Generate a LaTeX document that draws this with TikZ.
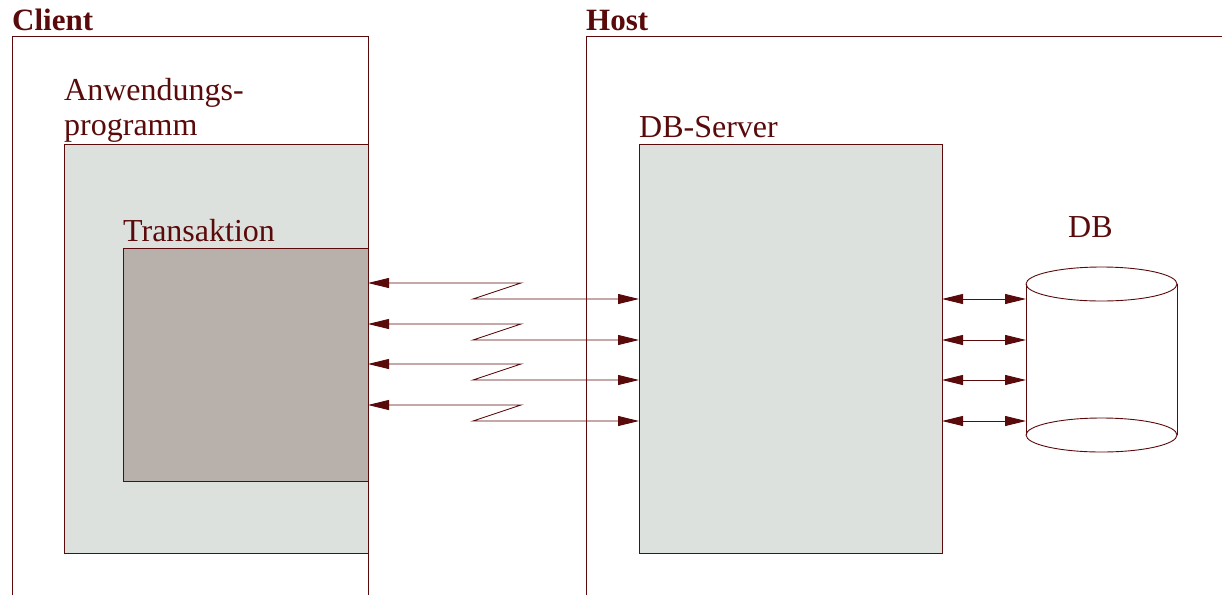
\documentclass[tikz,border=0pt]{standalone}
\usepackage{fontspec}
\setmainfont{Liberation Serif}
\usetikzlibrary{arrows.meta}
\definecolor{ink}{HTML}{5A0A0A}
\definecolor{appfill}{HTML}{DDE1DE}
\definecolor{trfill}{HTML}{B8B0AA}
\begin{document}
\begin{tikzpicture}[x=1pt,y=-1pt,
  line/.style={draw=ink,line width=0.9pt},
  boxnode/.style={line, rectangle, anchor=north west, inner sep=0pt, outer sep=0pt},
  lbl/.style={text=ink, anchor=base west, inner sep=0pt, font=\fontsize{32}{35}\selectfont},
  title/.style={lbl, font=\fontsize{31}{35}\selectfont\bfseries},
  conn/.style={line, {Triangle[length=21pt,width=10pt]}-{Triangle[length=21pt,width=10pt]}}]
\useasboundingbox (0,0) rectangle (1222,595);
% frames
\draw[line] (12,595) -- (12,36) -- (368,36) -- (368,595);
\draw[line] (586,595) -- (586,36) -- (1222,36);
\node[title] (client) at (12,30) {Client};
\node[title] (host) at (586,30) {Host};
% boxes
\node[boxnode, fill=appfill, minimum width=304pt, minimum height=409pt] (app) at (64,144) {};
\node[boxnode, fill=trfill, minimum width=245pt, minimum height=233pt] (tr) at (123,248) {};
\node[boxnode, fill=appfill, minimum width=303pt, minimum height=409pt] (srv) at (639,144) {};
\node[lbl, align=left, anchor=base west] (applbl) at (64,135) {Anwendungs-\\programm};
\node[lbl] (trlbl) at (123,241) {Transaktion};
\node[lbl] (srvlbl) at (639,137) {DB-Server};
\node[lbl] (dblbl) at (1068,237) {DB};
% database cylinder
\node[rectangle, inner sep=0pt, outer sep=0pt, minimum width=151pt, minimum height=185pt, anchor=north west] (db) at (1026,267) {};
\draw[line] (1026,284) -- (1026,435);
\draw[line] (1177,284) -- (1177,435);
\draw[line] (1101.5,284) ellipse [x radius=75.5pt, y radius=17pt];
\draw[line] (1101.5,435) ellipse [x radius=75.5pt, y radius=17pt];
% connectors
\foreach \i/\a/\b in {1/283/299, 2/324/340, 3/364/380, 4/405/421}{
  \coordinate (ya\i) at (0,\a);
  \coordinate (yb\i) at (0,\b);
  \draw[conn] (tr.east |- ya\i) -- (521,\a) -- (473,\b) -- (srv.west |- yb\i);
  \draw[conn] (srv.east |- yb\i) -- (db.west |- yb\i);
}
\end{tikzpicture}
\end{document}
